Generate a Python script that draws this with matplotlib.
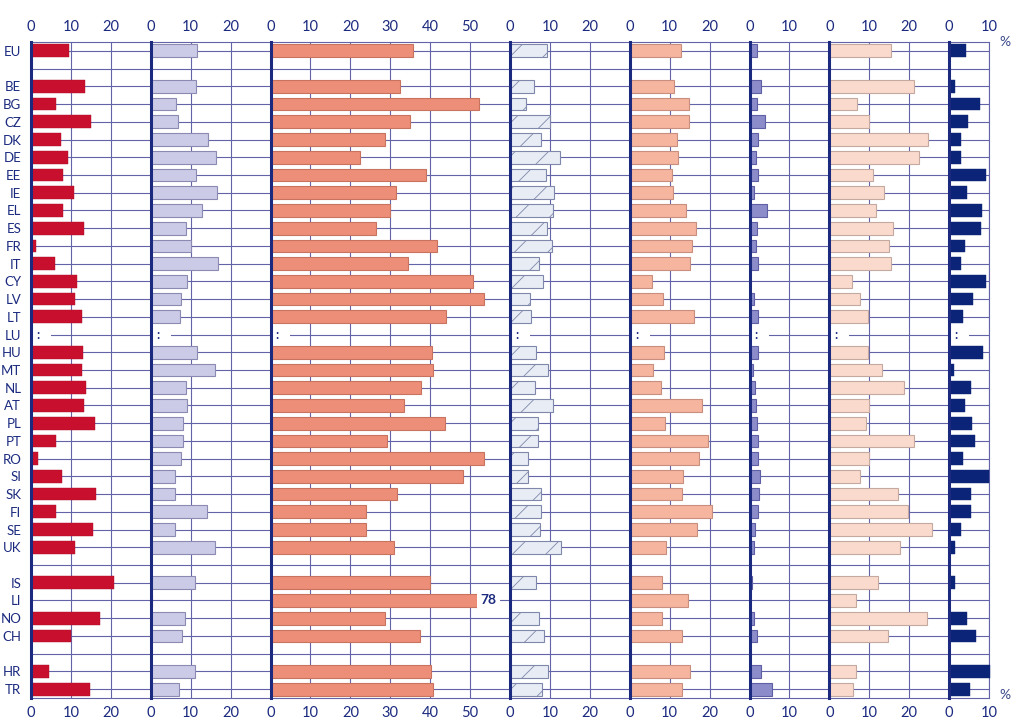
import matplotlib
matplotlib.use('Agg')
import matplotlib.pyplot as plt
import numpy as np

plt.rcParams['font.family'] = ['Lato', 'DejaVu Sans']
plt.rcParams['hatch.linewidth'] = 0.6

countries = ['EU', 'BE', 'BG', 'CZ', 'DK', 'DE', 'EE', 'IE', 'EL', 'ES', 'FR', 'IT',
             'CY', 'LV', 'LT', 'LU', 'HU', 'MT', 'NL', 'AT', 'PL', 'PT', 'RO', 'SI',
             'SK', 'FI', 'SE', 'UK', 'IS', 'LI', 'NO', 'CH', 'HR', 'TR']
gap_after = ['EU', 'UK', 'CH']
missing_marker = ['LU']

s1 = [9.5, 13.6, 6.3, 15.0, 7.4, 9.3, 8.1, 10.7, 8.1, 13.4, 1.3, 6.0,
      11.4, 11.1, 12.7, None, 13.0, 12.8, 13.8, 13.3, 16.1, 6.2, 1.8, 7.8,
      16.4, 6.3, 15.6, 11.0, 20.7, None, 17.4, 9.9, 4.5, 14.7]
s2 = [11.5, 11.4, 6.3, 6.8, 14.3, 16.4, 11.3, 16.5, 12.8, 8.9, 10.2, 16.9,
      9.0, 7.5, 7.4, None, 11.7, 16.1, 8.9, 9.0, 8.0, 8.1, 7.6, 6.1,
      6.2, 14.1, 6.1, 16.1, 11.1, 0.3, 8.6, 7.8, 11.1, 7.1]
s3 = [35.6, 32.5, 52.2, 35.0, 28.6, 22.4, 38.9, 31.4, 30.0, 26.4, 41.7, 34.5,
      50.8, 53.4, 43.9, None, 40.5, 40.7, 37.6, 33.4, 43.8, 29.3, 53.6, 48.2,
      31.8, 23.8, 23.9, 30.9, 39.9, 78, 28.6, 37.4, 40.1, 40.8]
s4 = [9.25, 5.9, 4.0, 9.9, 7.7, 12.6, 9.0, 11.1, 10.8, 9.2, 10.6, 7.2,
      8.2, 5.0, 5.2, None, 6.4, 9.4, 6.3, 10.7, 6.9, 7.1, 4.4, 4.5,
      7.7, 7.7, 7.4, 12.8, 6.6, None, 7.3, 8.6, 9.4, 7.9]
s5 = [12.9, 11.1, 14.8, 14.9, 11.9, 12.2, 10.5, 10.9, 14.0, 16.6, 15.6, 15.2,
      5.5, 8.4, 16.0, None, 8.5, 5.7, 7.8, 18.2, 8.8, 19.7, 17.3, 13.4,
      13.1, 20.7, 16.9, 9.1, 8.1, 14.7, 8.1, 13.0, 15.1, 13.1]
s6 = [1.8, 2.9, 1.8, 3.8, 2.1, 1.7, 2.1, 1.2, 4.3, 1.9, 1.7, 2.1,
      0.25, 1.1, 2.1, None, 2.1, 1.0, 1.4, 1.7, 1.8, 2.1, 2.1, 2.6,
      2.4, 2.1, 1.3, 1.1, 0.6, None, 1.2, 1.8, 2.9, 5.6]
s7 = [15.4, 21.2, 6.9, 9.9, 24.7, 22.5, 11.0, 13.7, 11.7, 15.9, 14.9, 15.5,
      5.6, 7.8, 9.8, None, 9.6, 13.3, 18.8, 10.0, 9.1, 21.2, 10.0, 7.6,
      17.3, 19.8, 25.8, 17.8, 12.1, 6.6, 24.5, 14.8, 6.7, 5.9]
s8 = [4.3, 1.6, 7.7, 4.8, 3.0, 3.0, 9.2, 4.6, 8.3, 8.0, 4.1, 3.1,
      9.3, 6.1, 3.4, None, 8.4, 1.3, 5.5, 3.9, 5.7, 6.5, 3.4, 9.9,
      5.6, 5.6, 3.0, 1.4, 1.6, None, 4.5, 6.7, 10.3, 5.2]

series = [s1, s2, s3, s4, s5, s6, s7, s8]
x_max = [30, 30, 60, 30, 30, 20, 30, 10]
break_cap = {2: 51.8}  # panel -> drawn length for a bar that runs off its panel

colors = ['#C8102E', '#CBCBE7', '#EC8E78', '#E8ECF5', '#F5B59F', '#8C8CCB', '#FADACD', '#0B2478']
edges = ['#A80C28', '#8A8AB2', '#C8735F', '#7F88AA', '#C98F7E', '#5F5FA5', '#C4A9A0', '#0B2478']
hatches = [None, None, None, '/', None, None, None, None]

navy = '#1B2A7E'
grid_c = '#6363A8'

# row positions with gaps
pos = []
p = 0
for c in countries:
    pos.append(p)
    p += 2 if c in gap_after else 1
n_rows = p

W, H = 1024, 721
fig = plt.figure(figsize=(W / 100, H / 100), dpi=100)
gs = fig.add_gridspec(1, len(series), width_ratios=x_max,
                      left=31 / W, right=989 / W, top=1 - 42 / H, bottom=1 - 698 / H,
                      wspace=0)

for k, vals in enumerate(series):
    ax = fig.add_subplot(gs[0, k])
    xm = x_max[k]
    last = (k == len(series) - 1)
    ax.set_xlim(0, xm)
    ax.set_ylim(n_rows - 0.5, -0.5)
    ticks = np.arange(0, xm + (1 if last else 0), 10)
    ax.set_xticks(ticks)
    ax.set_xticklabels([str(int(t)) for t in ticks])
    ax.set_yticks(range(n_rows))
    ax.set_axisbelow(True)
    ax.grid(True, color=grid_c, lw=0.8)
    ax.tick_params(axis='x', length=0, top=True, labeltop=True, bottom=True,
                   labelbottom=True, labelsize=10.5, colors=navy, pad=6)
    if k == 0:
        labels = [''] * n_rows
        for c, y in zip(countries, pos):
            labels[y] = c
        ax.set_yticklabels(labels)
        ax.tick_params(axis='y', length=0, labelsize=9.5, colors=navy, pad=7)
    else:
        ax.tick_params(axis='y', length=0, labelleft=False)
    for sp in ['top', 'bottom', 'right']:
        ax.spines[sp].set_color(grid_c)
        ax.spines[sp].set_linewidth(0.8)
    ax.spines['left'].set_color(navy)
    ax.spines['left'].set_linewidth(2.2)
    ax.spines['left'].set_zorder(5)

    cap = break_cap.get(k)
    for c, y, v in zip(countries, pos, vals):
        if v is None:
            if c in missing_marker:
                ax.barh(y, 5, height=0.3, color='white', zorder=1.5)
                ax.text(1.7, y, ':', ha='center', va='center', fontsize=9,
                        fontweight='bold', color=navy, zorder=4)
            continue
        off_scale = cap is not None and v > xm
        w = cap if off_scale else v
        ax.barh(y, w, height=0.72, color=colors[k], edgecolor=edges[k],
                lw=0.8 if k not in (0, 7) else 0.3, hatch=hatches[k],
                zorder=3, clip_on=False)
        if off_scale:
            ax.text(cap + 2.8, y, f'{v:g}', ha='center', va='center', fontsize=10,
                    fontweight='bold', color=navy, zorder=4,
                    bbox=dict(boxstyle='square,pad=0.25', fc='white', ec='none'))

fig.text(1005 / W, 1 - 42 / H, '%', ha='center', va='center', fontsize=10, color='#3A4A8A')
fig.text(1005 / W, 1 - 695 / H, '%', ha='center', va='center', fontsize=10, color='#3A4A8A')

fig.savefig('out.png', dpi=100, facecolor='white')
